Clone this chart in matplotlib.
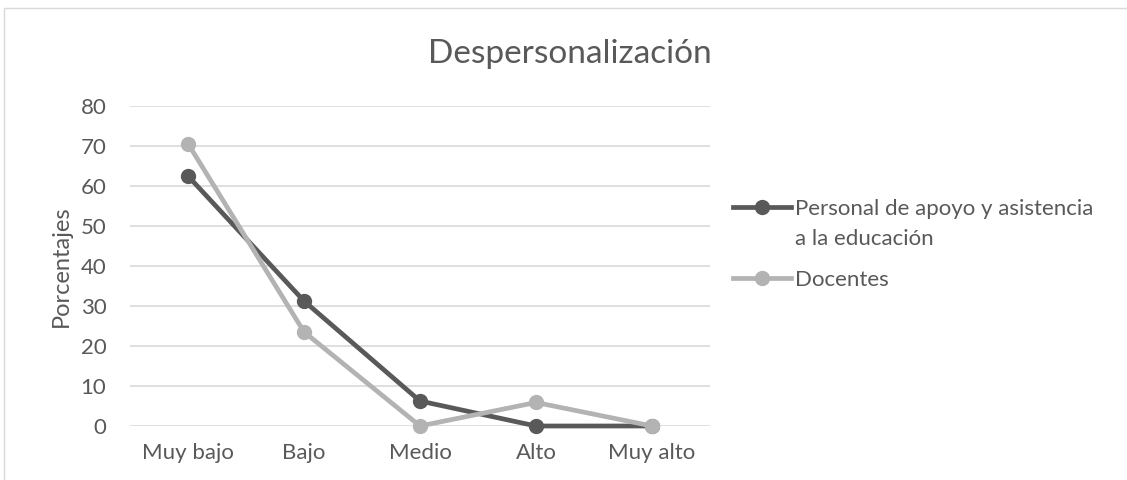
import matplotlib.pyplot as plt
from matplotlib.patches import Rectangle

# Datos
categorias = ['Muy bajo', 'Bajo', 'Medio', 'Alto', 'Muy alto']
personal_apoyo = [62.5, 31.25, 6.25, 0, 0]
docentes = [70.59, 23.53, 0, 5.88, 0]
series_nombres = ['Personal de apoyo y asistencia\na la educación', 'Docentes']
y_ticks = [0, 10, 20, 30, 40, 50, 60, 70, 80]

plt.rcParams['font.family'] = ['Lato', 'DejaVu Sans']
gris_texto = '#595959'

W, H = 1127, 480
fig = plt.figure(figsize=(W / 100, H / 100), dpi=100)
ax = fig.add_axes([130 / W, 54 / H, 580 / W, 320 / H])

# Marco del gráfico
fig.patches.append(Rectangle((4 / W, -0.1), 1.2, (472 / H) + 0.1,
                             transform=fig.transFigure, fill=False,
                             edgecolor='#d9d9d9', linewidth=1))

x = range(len(categorias))
ax.plot(x, personal_apoyo, color='#595959', linewidth=3.4, marker='o',
        markersize=10, label=series_nombres[0].split('\n')[0],
        clip_on=False, zorder=3)
ax.plot(x, docentes, color='#b3b3b3', linewidth=3.4, marker='o',
        markersize=10, label=series_nombres[1], clip_on=False, zorder=3)

ax.set_xlim(-0.5, len(categorias) - 0.5)
ax.set_ylim(0, 80)
ax.set_yticks(y_ticks)
ax.set_xticks(list(x))
ax.set_xticklabels(categorias)
ax.grid(axis='y', color='#d9d9d9', linewidth=1.2)
ax.set_axisbelow(True)
for s in ax.spines.values():
    s.set_visible(False)
ax.tick_params(length=0, labelsize=16, colors=gris_texto)
ax.tick_params(axis='x', pad=12)
ax.tick_params(axis='y', pad=17)

ax.set_ylabel('Porcentajes', fontsize=17, color=gris_texto)
ax.yaxis.set_label_coords(-0.1, 0.5)
fig.text(570 / W, 1 - 63 / H, 'Despersonalización', ha='center',
         va='baseline', fontsize=24, color=gris_texto)

leg = fig.legend(loc='upper left', bbox_to_anchor=(733 / W, 1 - 199 / H),
                 frameon=False, fontsize=16, handlelength=2.6,
                 handletextpad=0.2, labelspacing=2.3, borderpad=0,
                 borderaxespad=0, labelcolor=gris_texto)
for h in leg.legend_handles:
    h.set_linewidth(3.4)

# segunda línea de la primera etiqueta (Excel alinea el marcador con la primera línea)
fig.canvas.draw()
bb = leg.get_texts()[0].get_window_extent()
fig.text(bb.x0 / W, (bb.y0 + bb.y1) / 2 / H - 30 / H, series_nombres[0].split('\n')[1],
         ha='left', va='center', fontsize=16, color=gris_texto)

fig.savefig('out.png', dpi=100)
